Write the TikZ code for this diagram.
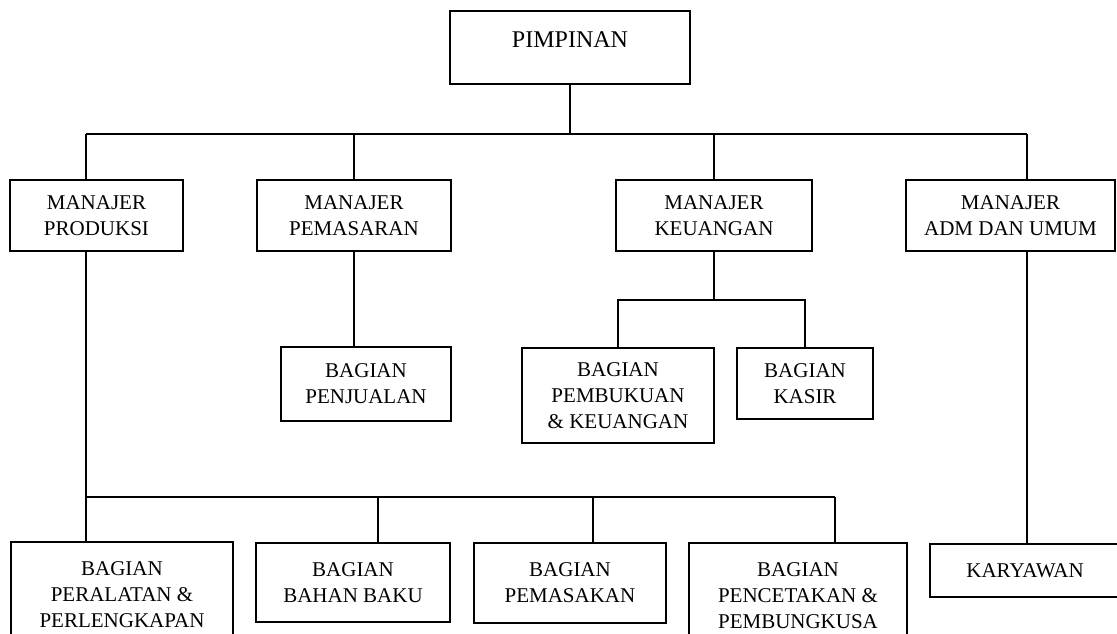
\documentclass[tikz,border=0pt]{standalone}
\usepackage{fontspec}
\setmainfont{Liberation Serif}
\usetikzlibrary{calc,positioning}

\begin{document}
\begin{tikzpicture}[x=1pt, y=-1pt, line width=1.5pt,
	kotak/.style={draw, align=center, inner sep=0pt, font=\fontsize{21}{26}\selectfont}]
	\path[use as bounding box] (0,0) rectangle (1117,633);
	% puncak
	\node (pimpinan) [draw, anchor=north, inner sep=0pt, minimum width=240pt, text height=37pt, text depth=36pt, font=\fontsize{24}{28}\selectfont] at (570,10) {PIMPINAN};
	% manajer
	\node (produksi) [kotak, minimum width=173pt, minimum height=71pt] at (96.5,215.5) {MANAJER\\PRODUKSI};
	\node (pemasaran) [kotak, minimum width=194pt, minimum height=71pt] at (354,215.5) {MANAJER\\PEMASARAN};
	\node (keuangan) [kotak, minimum width=196pt, minimum height=71pt] at (714,215.5) {MANAJER\\KEUANGAN};
	\node (adm) [kotak, minimum width=209pt, minimum height=71pt] at (1010.5,215.5) {MANAJER\\ADM DAN UMUM};
	% bagian tengah
	\node (penjualan) [kotak, minimum width=170pt, minimum height=74pt] at (366,384) {BAGIAN\\PENJUALAN};
	\node (pembukuan) [kotak, minimum width=192pt, minimum height=95pt] at (618,395.5) {BAGIAN\\PEMBUKUAN\\\& KEUANGAN};
	\node (kasir) [kotak, minimum width=136pt, minimum height=71pt] at (805,383.5) {BAGIAN\\KASIR};
	% bagian bawah
	\node (peralatan) [kotak, minimum width=222pt, minimum height=106pt] at (122,595) {BAGIAN\\PERALATAN \&\\PERLENGKAPAN};
	\node (bahanbaku) [kotak, minimum width=194pt, minimum height=79pt] at (353,582.5) {BAGIAN\\BAHAN BAKU};
	\node (pemasakan) [kotak, minimum width=192pt, minimum height=80pt] at (570,583) {BAGIAN\\PEMASAKAN};
	\node (pencetakan) [kotak, minimum width=218pt, minimum height=105pt] at (798,595.5) {BAGIAN\\PENCETAKAN \&\\PEMBUNGKUSA};
	\node (karyawan) [kotak, minimum width=190pt, minimum height=53pt] at (1025,570.5) {KARYAWAN};
	% garis
	\coordinate (bus) at (570,134);
	\coordinate (busL) at (86,134);
	\coordinate (busR) at (1027,134);
	\draw (pimpinan) -- (bus);
	\draw (busL) -- (busR);
	\draw (busL) -- (busL |- produksi.north);
	\draw (pemasaran |- bus) -- (pemasaran);
	\draw (keuangan |- bus) -- (keuangan);
	\draw (busR) -- (busR |- adm.north);
	\draw (pemasaran.south) -- (pemasaran.south |- penjualan.north);
	\coordinate (keubus) at ($(keuangan.south)+(0,48)$);
	\draw (keuangan.south) -- (keubus);
	\draw (pembukuan.north) |- (keubus) -| (kasir.north);
	\draw (busL |- produksi.south) -- (busL |- peralatan.north);
	\coordinate (prodbus) at (86,497);
	\coordinate (d1) at (378,497);
	\coordinate (d2) at (593,497);
	\coordinate (d3) at (835,497);
	\draw (prodbus) -- (d3);
	\draw (d1) -- (d1 |- bahanbaku.north);
	\draw (d2) -- (d2 |- pemasakan.north);
	\draw (d3) -- (d3 |- pencetakan.north);
	\draw (busR |- adm.south) -- (busR |- karyawan.north);
\end{tikzpicture}
\end{document}
